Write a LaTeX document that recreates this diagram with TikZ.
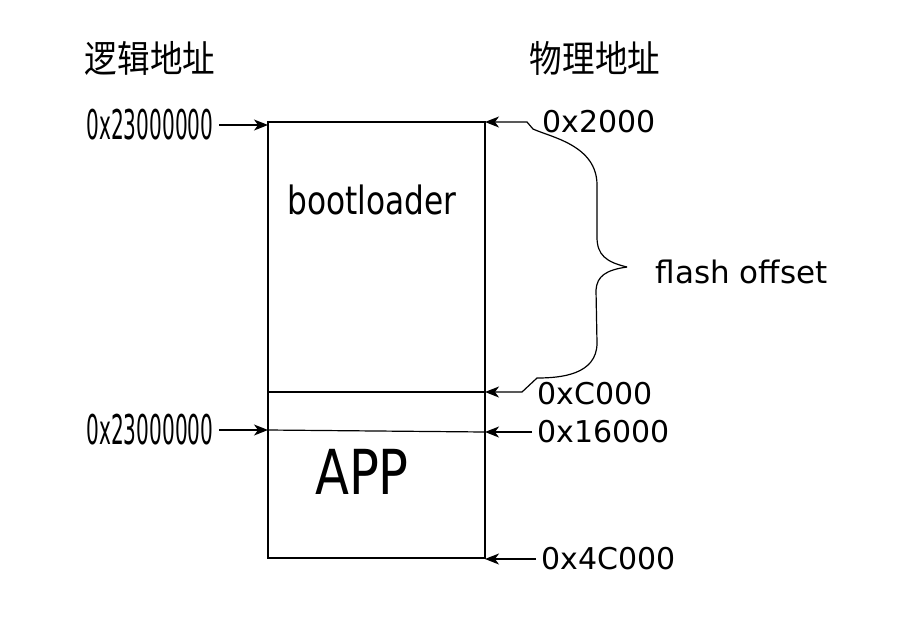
\documentclass[tikz,border=0pt]{standalone}
\usepackage{fontspec}
\setmainfont{DejaVu Sans}
\newfontfamily\narrowfont[FakeStretch=0.8]{DejaVu Sans}
\newfontfamily\thinfont[FakeStretch=0.49]{DejaVu Sans}
\newfontfamily\cjkfont[FakeStretch=0.88]{Noto Sans CJK SC}
\usetikzlibrary{arrows.meta}

\tikzset{
  addr/.style={font=\fontsize{30}{36}\selectfont, inner sep=5pt},
  logaddr/.style={font=\thinfont\fontsize{41}{48}\selectfont, inner sep=5pt},
  head/.style={font=\cjkfont\fontsize{37}{44}\selectfont},
  ptr/.style={-{Stealth[length=14pt,width=11pt,inset=4pt]}},
}

\begin{document}
\begin{tikzpicture}[line width=1.2pt]
\begin{scope}[x=1pt, y=-1pt]
\useasboundingbox (0,0) rectangle (897,619);

% memory block
\coordinate (tl) at (268,122);
\coordinate (br) at (485,558);
\draw (tl) rectangle (br);

\node[head] (logic) at (150,58) {逻辑地址};
\node[head] (phys) at (595,58) {物理地址};

\node[font=\narrowfont\fontsize{39}{46}\selectfont] (boot) at (372,200) {bootloader};
\node[font=\narrowfont\fontsize{62}{70}\selectfont] (app) at (362,472) {APP};

% logical addresses
\node[logaddr, anchor=east] (l1) at (219,125) {0x23000000};
\node[logaddr, anchor=east] (l2) at (219,430) {0x23000000};
\draw[ptr] (l1.east) -- (l1.east -| tl);
\draw[ptr] (l2.east) -- (l2.east -| tl);

% physical addresses
\node[addr, anchor=west] (r1) at (537,122) {0x2000};
\node[addr, anchor=west] (r2) at (532,394) {0xC000};
\node[addr, anchor=west] (r3) at (532,432) {0x16000};
\node[addr, anchor=west] (r4) at (536,559) {0x4C000};
\draw[ptr] (r3.west) -- (r3.west -| br);
\draw[ptr] (r4.west) -- (r4.west -| br);

% dividers
\draw (268,392) -- (485,392);
\draw (l2.east -| tl) -- (r3.west -| br);

% brace
\coordinate (tip) at (627,267);
\draw[ptr] (tip) .. controls (606,262) and (597,255) .. (597,237)
  -- (597,185) .. controls (597,145) and (550,137) .. (533,129)
  -- (527,122) -- (485,122);
\draw[ptr] (tip) .. controls (606,270) and (597,276) .. (596,290)
  -- (597,343) .. controls (597,375) and (560,378) .. (537,378)
  -- (522,392) -- (485,392);
\node[addr, font=\fontsize{31}{37}\selectfont, anchor=west] (flash) at (650,272) {flash offset};

\end{scope}
\end{tikzpicture}
\end{document}
